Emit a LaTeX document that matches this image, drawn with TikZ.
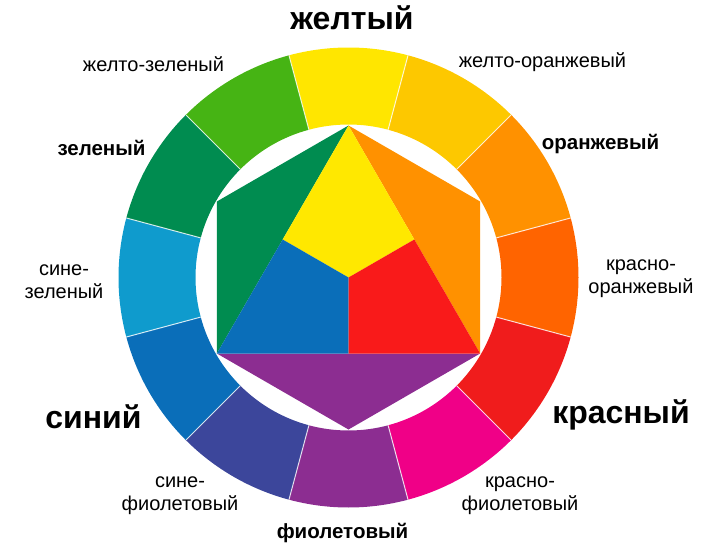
\documentclass[tikz,border=0pt]{standalone}
\usepackage{fontspec}
\setmainfont{Liberation Sans}
\definecolor{ringY}{HTML}{FFE600}
\definecolor{ringYO}{HTML}{FDC800}
\definecolor{ringO}{HTML}{FF9100}
\definecolor{ringRO}{HTML}{FF6400}
\definecolor{ringR}{HTML}{F01C1C}
\definecolor{ringRV}{HTML}{F00087}
\definecolor{ringV}{HTML}{8C2D91}
\definecolor{ringBV}{HTML}{3C469B}
\definecolor{ringB}{HTML}{0A6EB9}
\definecolor{ringBG}{HTML}{0F9BCD}
\definecolor{ringG}{HTML}{008C50}
\definecolor{ringYG}{HTML}{46B414}
\definecolor{midY}{HTML}{FFE800}
\definecolor{midR}{HTML}{F91A1A}

\begin{document}
\begin{tikzpicture}[x=1pt,y=1pt,
hue/.style={font=\fontsize{20}{23}\selectfont,align=center,anchor=base,inner sep=0pt},
hueb/.style={hue,font=\fontsize{20.5}{23}\selectfont\bfseries},
primary/.style={hue,font=\fontsize{32}{36}\selectfont\bfseries},
gap/.style={draw=white,draw opacity=0.8,line width=1pt}
]
\useasboundingbox (0,0) rectangle (720,550);
\coordinate (c) at (348.5,272.5);

\begin{scope}[shift={(c)}]
\foreach \col [count=\i from 0] in {ringY,ringYO,ringO,ringRO,ringR,ringRV,ringV,ringBV,ringB,ringBG,ringG,ringYG}{
  \pgfmathsetmacro\a{90-30*\i}
  \fill[\col] (\a+15:230) arc[start angle=\a+15,end angle=\a-15,radius=230]
    -- (\a-15:153) arc[start angle=\a-15,end angle=\a+15,radius=153] -- cycle;
}
\foreach \a in {15,45,...,345}
  \draw[gap] (\a:153) -- (\a:230);

\coordinate (ty) at (90:152);
\coordinate (tb) at (210:152);
\coordinate (tr) at (330:152);
\coordinate (ho) at (30:152);
\coordinate (hg) at (150:152);
\coordinate (hv) at (270:152);
\coordinate (myb) at (150:76);
\coordinate (myr) at (30:76);
\coordinate (mbr) at (270:76);
\coordinate (o) at (0,0);

\fill[ringG] (ty) -- (hg) -- (tb) -- cycle;
\fill[ringO] (ty) -- (ho) -- (tr) -- cycle;
\fill[ringV] (tb) -- (hv) -- (tr) -- cycle;
\fill[midY] (ty) -- (myb) -- (o) -- (myr) -- cycle;
\fill[ringB] (tb) -- (mbr) -- (o) -- (myb) -- cycle;
\fill[midR] (tr) -- (myr) -- (o) -- (mbr) -- cycle;
\end{scope}

\node[primary] (yellow) at (352,520) {желтый};
\node[hue] (yellowgreen) at (153.5,478) {желто-зеленый};
\node[hueb] (green) at (101.5,395) {зеленый};
\node[hue] (yelloworange) at (542.5,482) {желто-оранжевый};
\node[hueb] (orange) at (600.5,400) {оранжевый};
\node[hue] (redorange) at (641,257) {красно-\\оранжевый};
\node[primary] (red) at (621,127) {красный};
\node[hue] (redviolet) at (520,40) {красно-\\фиолетовый};
\node[hueb] (violet) at (342.5,12) {фиолетовый};
\node[hue] (blueviolet) at (180,40) {сине-\\фиолетовый};
\node[primary] (blue) at (93.5,122) {синий};
\node[hue] (bluegreen) at (64,252) {сине-\\зеленый};
\end{tikzpicture}
\end{document}
